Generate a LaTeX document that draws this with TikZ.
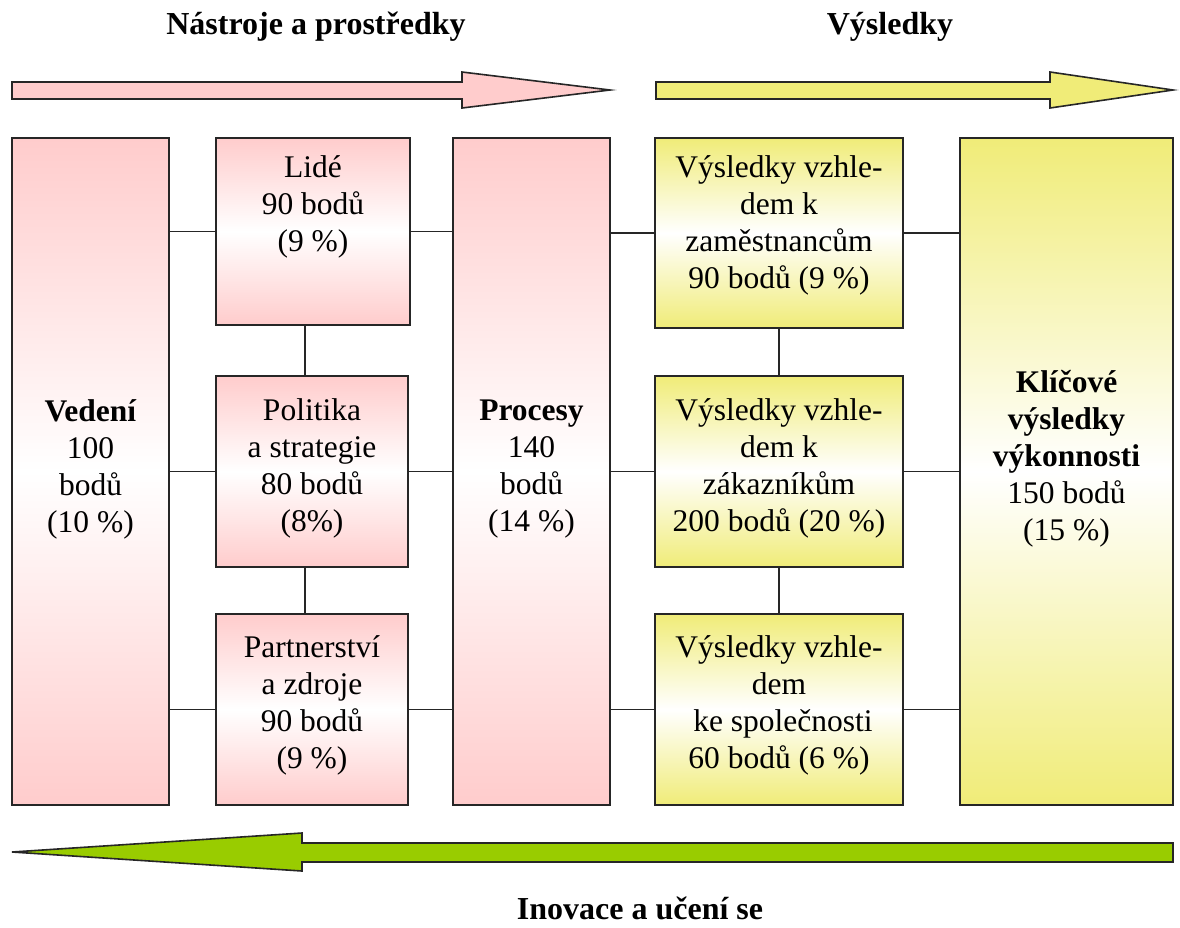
\documentclass[tikz,border=0pt]{standalone}
\usepackage{fontspec}
\setmainfont{Liberation Serif}
\usetikzlibrary{calc}
\definecolor{pinkc}{RGB}{255,204,204}
\definecolor{yellowc}{RGB}{240,236,120}
\definecolor{greenc}{RGB}{153,204,0}
\tikzset{
  box/.style={draw=black!85, line width=1.6pt, rectangle, inner sep=0pt},
  pinkbox/.style={box, top color=pinkc, bottom color=pinkc, middle color=white},
  yelbox/.style={box, top color=yellowc, bottom color=yellowc, middle color=white},
  txt/.style={align=center, inner sep=0pt, font=\fontsize{31.5}{37}\selectfont},
  title/.style={inner sep=0pt, font=\fontsize{32}{37}\selectfont\bfseries},
  conn/.style={draw=black!85, line width=1.3pt},
  bigarrow/.style={draw=black!85, line width=1.6pt, line join=miter}
}
\begin{document}
\begin{tikzpicture}[x=1pt,y=-1pt]
\useasboundingbox (0,0) rectangle (1180,927);
% titles
\node[title] (tl) at (316,27) {Nástroje a prostředky};
\node[title] (tr) at (890,27) {Výsledky};
\node[title] (tb) at (640,908) {Inovace a učení se};
% big arrows
\draw[bigarrow, fill=pinkc] (12,82) -- (462,82) -- (462,72) -- (610,90) -- (462,108) -- (462,99) -- (12,99) -- cycle;
\draw[bigarrow, fill=yellowc] (656,82) -- (1050,82) -- (1050,72) -- (1173,90) -- (1050,108) -- (1050,99) -- (656,99) -- cycle;
\draw[bigarrow, fill=greenc] (1173,843) -- (302,843) -- (302,833) -- (12,852) -- (302,871) -- (302,862) -- (1173,862) -- cycle;
% boxes
\node[pinkbox, minimum width=157pt, minimum height=667pt] (ved) at (90.5,471.5) {};
\node[pinkbox, minimum width=194pt, minimum height=187pt] (lide) at (313,231.5) {};
\node[pinkbox, minimum width=192pt, minimum height=191pt] (pol) at (312,471.5) {};
\node[pinkbox, minimum width=192pt, minimum height=191pt] (par) at (312,709.5) {};
\node[pinkbox, minimum width=157pt, minimum height=667pt] (proc) at (531.5,471.5) {};
\node[yelbox, minimum width=248pt, minimum height=190pt] (v1) at (779,233) {};
\node[yelbox, minimum width=248pt, minimum height=191pt] (v2) at (779,471.5) {};
\node[yelbox, minimum width=248pt, minimum height=191pt] (v3) at (779,709.5) {};
\node[yelbox, minimum width=213pt, minimum height=667pt] (kli) at (1066.5,471.5) {};
% texts
\node[txt] (tved) at (90.5,469.5) {\textbf{Vedení}\\100\\bodů\\(10 \%)};
\node[txt] (tlide) at (313,207) {Lidé\\90 bodů\\(9 \%)};
\node[txt] (tpol) at (312,468) {Politika\\a strategie\\80 bodů\\(8\%)};
\node[txt] (tpar) at (312,705.5) {Partnerství\\a zdroje\\90 bodů\\(9 \%)};
\node[txt] (tproc) at (531.5,469.5) {\textbf{Procesy}\\140\\bodů\\(14 \%)};
\node[txt] (tv1) at (779,225.5) {Výsledky vzhle-\\dem k\\zaměstnancům\\90 bodů (9 \%)};
\node[txt] (tv2) at (779,468) {Výsledky vzhle-\\dem k\\zákazníkům\\200 bodů (20 \%)};
\node[txt] (tv3) at (779,705.5) {Výsledky vzhle-\\dem\\\ ke společnosti\\60 bodů (6 \%)};
\node[txt] (tkli) at (1066.5,459) {\textbf{Klíčové}\\\textbf{výsledky}\\\textbf{výkonnosti}\\150 bodů\\(15 \%)};
% connectors
\draw[conn] (ved.east |- lide.west) -- (lide.west);
\draw[conn] (ved.east |- pol.west) -- (pol.west);
\draw[conn] (ved.east |- par.west) -- (par.west);
\draw[conn] (lide.east) -- (lide.east -| proc.west);
\draw[conn] (pol.east) -- (pol.east -| proc.west);
\draw[conn] (par.east) -- (par.east -| proc.west);
\draw[conn] (proc.east |- v1.west) -- (v1.west);
\draw[conn] (proc.east |- v2.west) -- (v2.west);
\draw[conn] (proc.east |- v3.west) -- (v3.west);
\draw[conn] (v1.east) -- (v1.east -| kli.west);
\draw[conn] (v2.east) -- (v2.east -| kli.west);
\draw[conn] (v3.east) -- (v3.east -| kli.west);
\draw[conn] ($(lide.south)+(-8,0)$) -- ($(pol.north)+(-7,0)$);
\draw[conn] ($(pol.south)+(-7,0)$) -- ($(par.north)+(-7,0)$);
\draw[conn] (v1.south) -- (v2.north);
\draw[conn] (v2.south) -- (v3.north);
\end{tikzpicture}
\end{document}
